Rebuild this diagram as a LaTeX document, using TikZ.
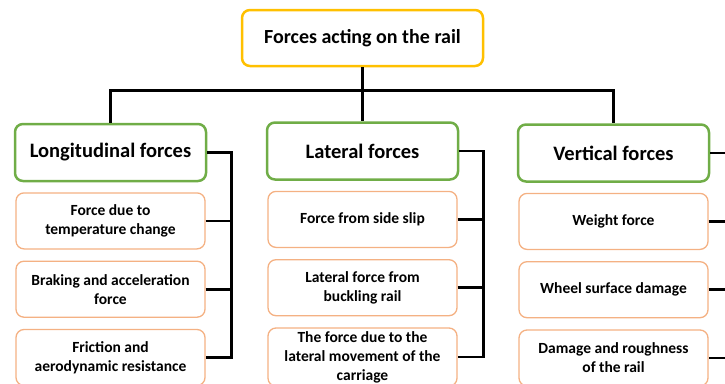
\documentclass[tikz,border=0pt]{standalone}
\usepackage{fontspec}
\setmainfont{Carlito}
\usetikzlibrary{positioning}
\definecolor{rootgold}{HTML}{FFC000}
\definecolor{groupgreen}{HTML}{70AD47}
\definecolor{itemorange}{HTML}{F4B183}
\tikzset{
  rootbox/.style={draw=rootgold, line width=2.5pt, rounded corners=8pt,
    minimum width=241pt, minimum height=56pt,
    font=\bfseries\fontsize{20}{23}\selectfont},
  groupbox/.style={draw=groupgreen, line width=2.5pt, rounded corners=8pt,
    minimum width=191pt, minimum height=57pt,
    font=\bfseries\fontsize{20.5}{24}\selectfont},
  itembox/.style={draw=itemorange, line width=1.3pt, rounded corners=8pt,
    minimum width=189pt, minimum height=56pt, align=center,
    font=\bfseries\fontsize{15.5}{19}\selectfont},
  link/.style={line width=2.6pt}
}
\begin{document}
\begin{tikzpicture}[x=1pt, y=1pt, node distance=11pt]
  \useasboundingbox (0,0) rectangle (725,-383);
  \clip (0,0) rectangle (725,-383);

  \node[rootbox] (root) at (362.5,-38) {Forces acting on the rail};

  \node[groupbox] (long) at (110.5,-152.5) {Longitudinal forces};
  \node[groupbox] (lat) at (362.5,-151) {Lateral forces};
  \node[groupbox] (vert) at (613.5,-153) {Vertical forces};

  \node[itembox, below=10pt of long] (long1) {Force due to\\temperature change};
  \node[itembox, below=of long1] (long2) {Braking and acceleration\\force};
  \node[itembox, below=of long2] (long3) {Friction and\\aerodynamic resistance};

  \node[itembox, below=10pt of lat] (lat1) {Force from side slip};
  \node[itembox, below=of lat1] (lat2) {Lateral force from\\buckling rail};
  \node[itembox, below=of lat2] (lat3) {The force due to the\\lateral movement of the\\carriage};

  \node[itembox, below=10pt of vert] (vert1) {Weight force};
  \node[itembox, below=of vert1] (vert2) {Wheel surface damage};
  \node[itembox, below=of vert2] (vert3) {Damage and roughness\\of the rail};

  % root to groups
  \draw[link] (root.south) -- ++(0,-23) coordinate (hub);
  \draw[link] (long.north) |- (hub) -| (vert.north);
  \draw[link] (hub) -- (lat.north);

  % brackets on the right of each column
  \foreach \g in {long, lat, vert} {
    \draw[link] (\g.east) -- ++(24,0) coordinate (\g bar) -- (\g bar |- \g3.east) -- (\g3.east);
    \draw[link] (\g1.east) -- (\g bar |- \g1.east);
    \draw[link] (\g2.east) -- (\g bar |- \g2.east);
  }
\end{tikzpicture}
\end{document}
